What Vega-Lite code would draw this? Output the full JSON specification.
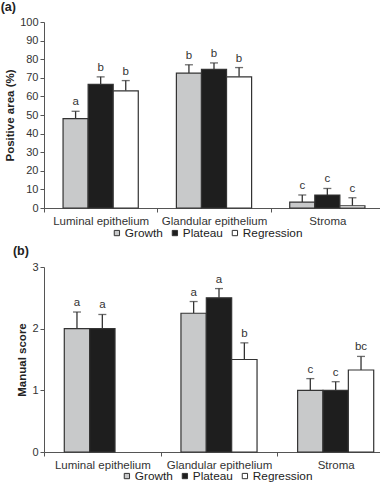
{
  "$schema": "https://vega.github.io/schema/vega-lite/v6.json",
  "padding": {"left": 0, "right": 0, "top": 0, "bottom": 0},
  "spacing": 4,
  "align": "none",
  "datasets": {
    "a": [
      {"region": "Luminal epithelium", "phase": "Growth", "value": 48, "err": 52, "letter": "a"},
      {"region": "Luminal epithelium", "phase": "Plateau", "value": 66.5, "err": 70.5, "letter": "b"},
      {"region": "Luminal epithelium", "phase": "Regression", "value": 63, "err": 68.5, "letter": "b"},
      {"region": "Glandular epithelium", "phase": "Growth", "value": 72.5, "err": 77, "letter": "b"},
      {"region": "Glandular epithelium", "phase": "Plateau", "value": 74.5, "err": 78, "letter": "b"},
      {"region": "Glandular epithelium", "phase": "Regression", "value": 70.5, "err": 75.5, "letter": "b"},
      {"region": "Stroma", "phase": "Growth", "value": 3.2, "err": 7, "letter": "c"},
      {"region": "Stroma", "phase": "Plateau", "value": 7, "err": 10.5, "letter": "c"},
      {"region": "Stroma", "phase": "Regression", "value": 1.2, "err": 5.5, "letter": "c"}
    ],
    "b": [
      {"region": "Luminal epithelium", "phase": "Growth", "value": 2, "err": 2.27, "letter": "a"},
      {"region": "Luminal epithelium", "phase": "Plateau", "value": 2, "err": 2.23, "letter": "a"},
      {"region": "Glandular epithelium", "phase": "Growth", "value": 2.25, "err": 2.44, "letter": "a"},
      {"region": "Glandular epithelium", "phase": "Plateau", "value": 2.5, "err": 2.65, "letter": "a"},
      {"region": "Glandular epithelium", "phase": "Regression", "value": 1.5, "err": 1.77, "letter": "b"},
      {"region": "Stroma", "phase": "Growth", "value": 1.0, "err": 1.19, "letter": "c"},
      {"region": "Stroma", "phase": "Plateau", "value": 1.0, "err": 1.14, "letter": "c"},
      {"region": "Stroma", "phase": "Regression", "value": 1.33, "err": 1.55, "letter": "bc"}
    ]
  },
  "vconcat": [
    {
      "title": {"text": "(a)", "anchor": "start", "frame": "bounds", "fontSize": 12.5, "fontWeight": "bold", "color": "#222", "dx": -4, "offset": 3},
      "width": 340,
      "height": 186,
      "data": {"name": "a"},
      "encoding": {
        "x": {"field": "region", "type": "nominal", "sort": ["Luminal epithelium", "Glandular epithelium", "Stroma"],
              "scale": {"paddingInner": 0, "paddingOuter": 0},
              "axis": {"title": null, "labelAngle": 0, "tickBand": "extent", "labelFontSize": 11.5, "labelPadding": 3, "tickSize": 4}},
        "xOffset": {"field": "phase", "type": "nominal", "sort": ["Growth", "Plateau", "Regression"], "scale": {"paddingInner": 0, "paddingOuter": 0.76}},
        "y": {"field": "value", "type": "quantitative", "scale": {"domain": [0, 100]},
              "axis": {"title": "Positive area (%)", "values": [0,10,20,30,40,50,60,70,80,90,100], "format": "d", "labelOverlap": false, "titleFontSize": 11.5, "titleFontWeight": "bold", "titleColor": "#222", "titlePadding": 4, "labelFontSize": 11, "tickSize": 4, "labelPadding": 2}}
      },
      "layer": [
        {
          "mark": {"type": "rule", "color": "#333", "strokeWidth": 1.3},
          "encoding": {"y2": {"field": "err"}}
        },
        {
          "mark": {"type": "tick", "color": "#333", "size": 8, "thickness": 1.3},
          "encoding": {"y": {"field": "err", "type": "quantitative"}}
        },
        {
          "mark": {"type": "bar", "stroke": "#333", "strokeWidth": 1.2},
          "encoding": {
            "color": {"field": "phase", "type": "nominal", "sort": ["Growth", "Plateau", "Regression"],
                      "scale": {"domain": ["Growth", "Plateau", "Regression"], "range": ["#c8c9ca", "#1e1e1e", "#ffffff"]},
                      "legend": {"title": null, "orient": "none", "legendX": 67, "legendY": 205, "direction": "horizontal", "symbolType": "square", "symbolSize": 28, "symbolStrokeColor": "#333", "symbolStrokeWidth": 1, "labelFontSize": 11.8, "labelColor": "#222", "labelOffset": 2, "columnPadding": 6, "padding": 0}}
          }
        },
        {
          "mark": {"type": "text", "baseline": "alphabetic", "dy": -6, "fontSize": 11.5, "color": "#333"},
          "encoding": {"y": {"field": "err", "type": "quantitative"}, "text": {"field": "letter"}}
        }
      ]
    },
    {
      "title": {"text": "(b)", "anchor": "start", "frame": "bounds", "fontSize": 12.5, "fontWeight": "bold", "color": "#222", "dx": -4, "offset": 4},
      "width": 350,
      "height": 185,
      "data": {"name": "b"},
      "encoding": {
        "x": {"field": "region", "type": "nominal", "sort": ["Luminal epithelium", "Glandular epithelium", "Stroma"],
              "scale": {"paddingInner": 0, "paddingOuter": 0},
              "axis": {"title": null, "labelAngle": 0, "tickBand": "extent", "labelFontSize": 11.5, "labelPadding": 3, "tickSize": 4}},
        "xOffset": {"field": "phase", "type": "nominal", "sort": ["Growth", "Plateau", "Regression"], "scale": {"domain": ["Growth", "Plateau", "Regression"], "paddingInner": 0, "paddingOuter": 0.8}},
        "y": {"field": "value", "type": "quantitative", "scale": {"domain": [0, 3]},
              "axis": {"title": "Manual score", "values": [0,1,2,3], "format": "d", "labelOverlap": false, "titleFontSize": 11.5, "titleFontWeight": "bold", "titleColor": "#222", "titlePadding": 4, "labelFontSize": 11, "tickSize": 4, "labelPadding": 2}}
      },
      "layer": [
        {
          "mark": {"type": "rule", "color": "#333", "strokeWidth": 1.3},
          "encoding": {"y2": {"field": "err"}}
        },
        {
          "mark": {"type": "tick", "color": "#333", "size": 8, "thickness": 1.3},
          "encoding": {"y": {"field": "err", "type": "quantitative"}}
        },
        {
          "mark": {"type": "bar", "stroke": "#333", "strokeWidth": 1.2},
          "encoding": {
            "color": {"field": "phase", "type": "nominal", "sort": ["Growth", "Plateau", "Regression"],
                      "scale": {"domain": ["Growth", "Plateau", "Regression"], "range": ["#c8c9ca", "#1e1e1e", "#ffffff"]},
                      "legend": {"title": null, "orient": "none", "legendX": 77, "legendY": 203, "direction": "horizontal", "symbolType": "square", "symbolSize": 28, "symbolStrokeColor": "#333", "symbolStrokeWidth": 1, "labelFontSize": 11.8, "labelColor": "#222", "labelOffset": 2, "columnPadding": 6, "padding": 0}}
          }
        },
        {
          "mark": {"type": "text", "baseline": "alphabetic", "dy": -6, "fontSize": 11.5, "color": "#333"},
          "encoding": {"y": {"field": "err", "type": "quantitative"}, "text": {"field": "letter"}}
        }
      ]
    }
  ],
  "resolve": {"scale": {"color": "independent", "x": "independent", "y": "independent", "xOffset": "independent"}, "legend": {"color": "independent"}},
  "config": {
    "view": {"stroke": null},
    "font": "Liberation Sans",
    "axis": {"grid": false, "domainColor": "#555", "tickColor": "#555", "labelColor": "#333", "labelFont": "Liberation Sans", "titleFont": "Liberation Sans"},
    "legend": {"labelFont": "Liberation Sans"}
  }
}
